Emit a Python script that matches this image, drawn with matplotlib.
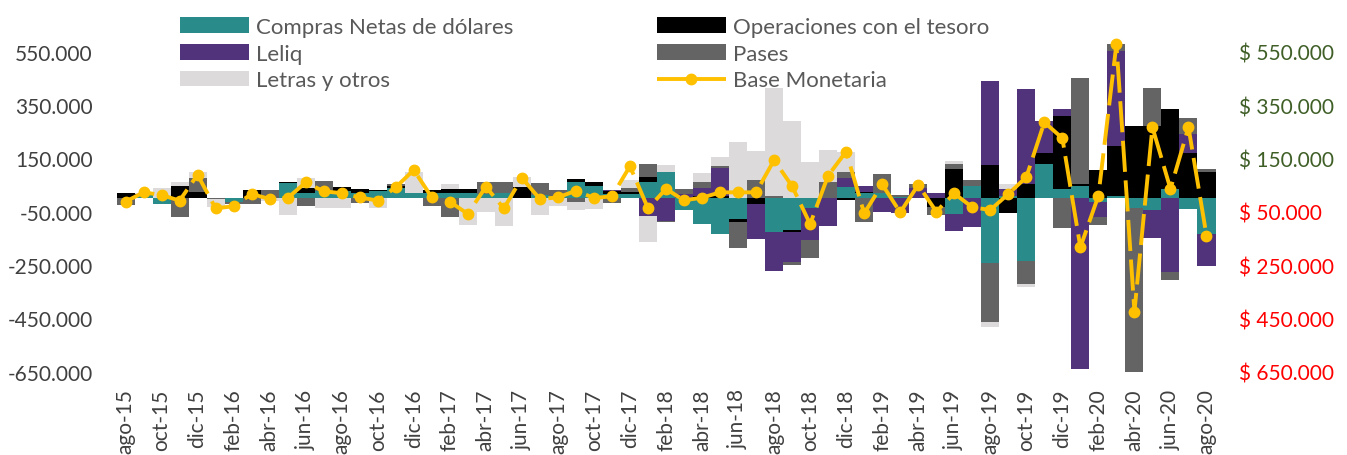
from __future__ import annotations

import matplotlib

matplotlib.use("Agg")
import matplotlib.pyplot as plt
import numpy as np
from matplotlib.patches import Patch
from matplotlib.ticker import FixedLocator, FuncFormatter

plt.rcParams["font.family"] = ["Lato", "DejaVu Sans"]

MONTH_NAMES = ["ene", "feb", "mar", "abr", "may", "jun", "jul", "ago", "sep", "oct", "nov", "dic"]
FIRST_MONTH = 7  # ago-15
FIRST_YEAR = 15
N_MONTHS = 61

# valores en miles, ago-15 .. ago-20
compras_netas = [
    3, 12, -22, 0, 0, 0, -15, 0, 3, 58, 22, 29, 28, 22, 28, 40, 22, 22, 22, 20,
    18, 20, 0, 12, 8, 62, 48, 18, 15, 60, 100, -42, -96, -133, -77, 0, -127, -117, -37, 0,
    42, 22, 22, 5, 0, 0, -57, 45, -242, 10, -233, 130, 35, 47, -12, 10, -37, -44, 35, -38,
    -132,
]
operaciones_tesoro = [
    16, 5, 3, 45, 25, 3, 0, 32, 0, 5, 18, 0, 15, 12, 2, 5, 0, 8, 12, 15,
    0, 0, 42, 0, 0, 12, 12, 10, 8, 19, 0, 3, 8, 10, -10, -20, 0, -10, 0, 0,
    -5, 3, 0, 0, 0, -33, 112, 0, 125, -55, 55, 42, 276, 8, 108, 187, 272, 273, 302, 172,
    100,
]
leliq = [
    2, 0, 0, 0, 0, 0, 0, 0, 0, 0, 0, 0, 0, 0, 0, 0, 0, 0, 0, 0,
    0, 0, 0, 0, 0, 0, 0, 2, 0, -64, -83, 15, 31, 103, 0, -131, -145, -111, -120, -105,
    34, 20, -52, -56, 41, 22, -65, -108, 316, 25, 355, 119, 26, -640, -56, 356, 0, -106, -275, 69,
    -120,
]
pases = [
    -25, 0, 0, -70, 50, -3, -5, -22, 28, 0, -27, 35, 0, -18, 0, 10, 0, -28, -70, 0,
    44, 40, 0, 45, 25, -15, 0, -16, 15, 52, -5, 16, 21, 10, -100, 69, 8, -12, -68, 62,
    25, -88, 68, 8, 15, -30, 16, 25, -222, 0, -87, 0, -112, 398, -31, 25, -612, 140, -31, 62,
    12,
]
letras_otros = [
    0, 3, 35, 18, 25, -30, 0, 0, -10, -63, 38, -37, -35, 0, -37, 0, 79, 0, 22, -100,
    -50, -105, 38, -62, -30, -28, -40, 0, 30, -100, 26, 0, 35, 32, 212, 110, 405, 292, 136, 120,
    75, 0, 0, 0, 0, 0, 12, 0, -19, 20, -12, 0, 0, 0, 0, 0, 0, 0, 0, 0,
    0,
]
base_monetaria = [
    -12, 23, 13, -8, 89, -37, -29, 17, -2, 2, 60, 27, 20, 4, -8, 42, 107, 4, -12, -58,
    44, -37, 77, -2, 4, 29, 2, 8, 121, -37, 36, -7, 3, 23, 23, 23, 144, 46, -96, 86,
    176, -56, 53, -52, 51, -49, 19, -33, -43, 17, 80, 286, 226, -183, 10, 579, -424, 267, 36, 267,
    -139,
]

Y_TICKS = [-650, -450, -250, -50, 150, 350, 550]

COLORS = {
    "compras": "#2a8c8a",
    "tesoro": "#000000",
    "leliq": "#50337a",
    "pases": "#646464",
    "letras": "#dcdadb",
    "base": "#ffc000",
}
TEXT_COLOR = "#404040"
LEGEND_COLOR = "#595959"
POS_COLOR = "#3f5f27"
NEG_COLOR = "#ff0000"

W, H = 1347, 456


def month_labels() -> list[str]:
    labels = []
    for i in range(N_MONTHS):
        m = FIRST_MONTH + i
        labels.append(f"{MONTH_NAMES[m % 12]}-{FIRST_YEAR + m // 12}")
    return labels


def fmt_left(v, _pos=None) -> str:
    return f"{v:,.0f}".replace(",", ".")


def fmt_right(v, _pos=None) -> str:
    return "$ " + f"{abs(v):,.0f}".replace(",", ".")


def main() -> None:
    labels = month_labels()
    x = np.arange(N_MONTHS)

    fig = plt.figure(figsize=(W / 100, H / 100), dpi=100)
    left, right, top, bottom = 116.5, 1215.5, 39.5, 372.8
    ax = fig.add_axes([left / W, 1 - bottom / H, (right - left) / W, (bottom - top) / H])

    stack = [
        ("Compras Netas de dólares", compras_netas, COLORS["compras"]),
        ("Operaciones con el tesoro", operaciones_tesoro, COLORS["tesoro"]),
        ("Leliq", leliq, COLORS["leliq"]),
        ("Pases", pases, COLORS["pases"]),
        ("Letras y otros", letras_otros, COLORS["letras"]),
    ]

    # barras apiladas: positivos hacia arriba, negativos hacia abajo
    pos_base = np.zeros(N_MONTHS)
    neg_base = np.zeros(N_MONTHS)
    handles = {}
    for name, values, color in stack:
        vals = np.array(values, dtype=float) * 1000
        bottom_vals = np.where(vals >= 0, pos_base, neg_base)
        ax.bar(x, vals, bottom=bottom_vals, width=1.0, color=color, linewidth=0)
        pos_base += np.where(vals >= 0, vals, 0)
        neg_base += np.where(vals < 0, vals, 0)
        handles[name] = Patch(facecolor=color, edgecolor="none")

    y_lim = (-650000, 600000)
    y_ticks = [t * 1000 for t in Y_TICKS]
    ax.set_xlim(-0.5, N_MONTHS - 0.5)
    ax.set_ylim(*y_lim)
    ax.yaxis.set_major_locator(FixedLocator(y_ticks))
    ax.yaxis.set_major_formatter(FuncFormatter(fmt_left))
    ax.set_xticks(x[::2])
    ax.set_xticklabels(labels[::2], rotation=90, ha="center", va="top")
    ax.tick_params(axis="y", length=0, pad=17, labelsize=15, labelcolor=TEXT_COLOR)
    ax.tick_params(axis="x", length=0, pad=12, labelsize=15, labelcolor=TEXT_COLOR)
    for spine in ax.spines.values():
        spine.set_visible(False)

    ax2 = ax.twinx()
    ax2.set_ylim(*y_lim)
    ax2.yaxis.set_major_locator(FixedLocator(y_ticks))
    ax2.yaxis.set_major_formatter(FuncFormatter(fmt_right))
    ax2.tick_params(axis="y", length=0, pad=17, labelsize=15)
    for spine in ax2.spines.values():
        spine.set_visible(False)
    line, = ax2.plot(
        x,
        np.array(base_monetaria, dtype=float) * 1000,
        color=COLORS["base"],
        linewidth=2.8,
        dashes=(8, 2.2),
        marker="o",
        markersize=7.5,
        clip_on=False,
    )
    fig.canvas.draw()
    for lbl, t in zip(ax2.get_yticklabels(), y_ticks):
        lbl.set_color(POS_COLOR if t > 0 else NEG_COLOR)

    order = [
        "Compras Netas de dólares",
        "Leliq",
        "Letras y otros",
        "Operaciones con el tesoro",
        "Pases",
    ]
    leg_handles = [handles[n] for n in order] + [line]
    leg_labels = order + ["Base Monetaria"]
    fig.legend(
        leg_handles,
        leg_labels,
        ncol=2,
        loc="upper left",
        bbox_to_anchor=(160 / W, 1 + 2 / H),
        frameon=False,
        fontsize=16,
        labelcolor=LEGEND_COLOR,
        handlelength=3.1,
        handleheight=0.7,
        handletextpad=0.33,
        columnspacing=6.45,
        labelspacing=0.3,
    )

    fig.savefig("out.png", dpi=100)
    plt.close(fig)


if __name__ == "__main__":
    main()
